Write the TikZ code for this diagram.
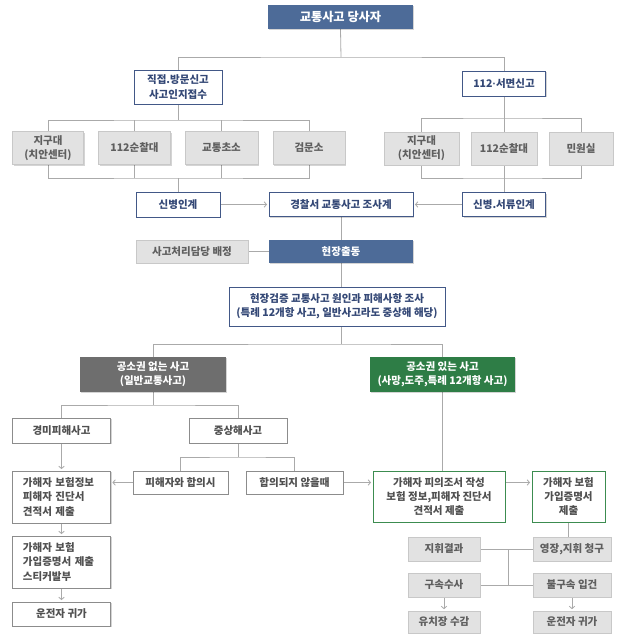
\documentclass[tikz,border=0pt]{standalone}
\usepackage{fontspec}
\setmainfont{Noto Sans CJK KR}
\newfontfamily\latinfont{Liberation Sans}
\usetikzlibrary{arrows.meta,shadows,backgrounds,calc}
\definecolor{navy}{RGB}{77,107,152}
\definecolor{blueline}{RGB}{66,88,135}
\definecolor{bluetext}{RGB}{52,72,118}
\definecolor{grayfill}{RGB}{226,226,226}
\definecolor{grayline}{RGB}{200,200,200}
\definecolor{graytext}{RGB}{95,95,95}
\definecolor{darkfill}{RGB}{110,110,110}
\definecolor{greenfill}{RGB}{46,125,70}
\definecolor{greenline}{RGB}{60,140,80}
\definecolor{wline}{RGB}{140,140,140}
\definecolor{wtext}{RGB}{80,80,80}
\definecolor{linegray}{RGB}{170,170,170}
\begin{document}
\begin{tikzpicture}[x=1pt,y=-1pt,
  every node/.style={font=\fontsize{10.5}{14.2}\selectfont\bfseries, inner sep=0pt, align=center},
  shad/.style={drop shadow={shadow xshift=1.3pt,shadow yshift=-1.3pt,fill=black,opacity=0.17}},
  navybox/.style={shad, fill=navy, text=white},
  bluebox/.style={shad, fill=white, draw=blueline, line width=0.8pt, text=bluetext},
  graybox/.style={shad, fill=grayfill, draw=grayline, line width=0.6pt, text=graytext},
  darkbox/.style={shad, fill=darkfill, text=white},
  greenbox/.style={shad, fill=greenfill, text=white},
  gbox/.style={shad, fill=white, draw=greenline, line width=0.8pt, text=wtext},
  wbox/.style={shad, fill=white, draw=wline, line width=0.7pt, text=wtext},
  leftbox/.style={wbox, align=left, text width=77pt, inner xsep=10.5pt},
  conn/.style={draw=linegray, line width=0.8pt},
  arr/.style={conn, shorten >=1.5pt, -{Straight Barb[length=2.5pt,width=5.5pt,line width=0.8pt]}},
]
\useasboundingbox (0,0) rectangle (624,635);

% top
\node[navybox, font=\fontsize{12.2}{14}\selectfont\bfseries, minimum width=145pt, minimum height=24pt] (top) at (340.5,17) {교통사고 당사자};
\node[bluebox, minimum width=88pt, minimum height=34pt] (d1) at (178,87) {직접.방문신고\\사고인지접수};
\node[bluebox, minimum width=83pt, minimum height=25pt] (d2) at (504,83.5) {112{\latinfont\bfseries ·}서면신고};

% left group
\node[graybox, minimum width=71pt, minimum height=33pt] (a1) at (48,148) {지구대\\(치안센터)};
\node[graybox, minimum width=72pt, minimum height=33pt] (a2) at (134.5,148) {112순찰대};
\node[graybox, minimum width=73pt, minimum height=33pt] (a3) at (221.5,148) {교통초소};
\node[graybox, minimum width=72pt, minimum height=33pt] (a4) at (309,148) {검문소};

% right group
\node[graybox, minimum width=75pt, minimum height=33pt] (b1) at (421.5,148.5) {지구대\\(치안센터)};
\node[graybox, minimum width=66pt, minimum height=33pt] (b2) at (504,148.5) {112순찰대};
\node[graybox, minimum width=64pt, minimum height=33pt] (b3) at (581,148.5) {민원실};

% transfer row
\node[bluebox, minimum width=84pt, minimum height=25pt] (s1) at (178,204.5) {신병인계};
\node[bluebox, minimum width=144pt, minimum height=24pt] (police) at (341,204.5) {경찰서 교통사고 조사계};
\node[bluebox, minimum width=83pt, minimum height=24pt] (s3) at (504,204.5) {신병.서류인계};

\node[navybox, minimum width=144pt, minimum height=23pt] (field) at (341,251.5) {현장출동};
\node[graybox, minimum width=112pt, minimum height=23pt] (assign) at (192,251.5) {사고처리담당 배정};

\node[bluebox, minimum width=216pt, minimum height=39pt] (inv) at (337,306.5) {현장검증 교통사고 원인과 피해사항 조사\\(특례 12개항 사고, 일반사고라도 중상해 해당)};

\node[darkbox, minimum width=146pt, minimum height=35pt] (no) at (153,374.5) {공소권 없는 사고\\(일반교통사고)};
\node[greenbox, minimum width=145pt, minimum height=35pt] (yes) at (442.5,374.5) {공소권 있는 사고\\(사망,도주,특례 12개항 사고)};

\node[wbox, minimum width=98pt, minimum height=25pt] (m1) at (61.5,430.5) {경미피해사고};
\node[wbox, minimum width=98pt, minimum height=25pt] (m2) at (238,430.5) {중상해사고};
\node[wbox, minimum width=95pt, minimum height=23pt] (h1) at (180.5,482.5) {피해자와 합의시};
\node[wbox, minimum width=97pt, minimum height=23pt] (h2) at (294.5,482.5) {합의되지 않을때};

\node[leftbox, minimum height=52pt] (L1) at (61.5,497) {가해자 보험정보\\피해자 진단서\\견적서 제출};
\node[leftbox, minimum height=52pt] (L2) at (61.5,562) {가해자 보험\\가입증명서 제출\\스티커발부};
\node[wbox, minimum width=98pt, minimum height=24pt] (L3) at (61.5,614) {운전자 귀가};

\node[gbox, minimum width=132pt, minimum height=51pt] (p1) at (439,496.5) {가해자 피의조서 작성\\보험 정보,피해자 진단서\\견적서 제출};
\node[gbox, minimum width=73pt, minimum height=51pt] (p2) at (568.5,496.5) {가해자 보험\\가입증명서\\제출};

\node[graybox, minimum width=72pt, minimum height=24pt] (r1) at (444,549) {지휘결과};
\node[graybox, minimum width=78pt, minimum height=24pt] (r2) at (572,549) {영장,지휘 청구};
\node[graybox, minimum width=72pt, minimum height=24pt] (r3) at (444,585) {구속수사};
\node[graybox, minimum width=78pt, minimum height=24pt] (r4) at (572,585) {불구속 입건};
\node[graybox, minimum width=72pt, minimum height=22pt] (r5) at (444,622) {유치장 수감};
\node[graybox, minimum width=78pt, minimum height=22pt] (r6) at (572,622) {운전자 귀가};

% junctions
\coordinate (j1) at (341,57);
\coordinate (jL1) at (178,120);
\coordinate (jL2) at (178,178);
\coordinate (jR1) at (504,118);
\coordinate (jR2) at (504,178);
\coordinate (j2) at (341,344);
\coordinate (jN) at (153,405);
\coordinate (jM) at (238,457);
\coordinate (v1) at (508,549);
\coordinate (v2) at (508,585);

\begin{pgfonlayer}{background}
\fill[white] (0,0) rectangle (624,635);
\draw[conn] (top.south) -- (j1);
\draw[conn] (d1.north) |- (j1) -| (d2.north);
% left group
\draw[conn] (d1.south) -- (jL1);
\draw[conn] (a1.north) |- (jL1) -| (a4.north);
\draw[conn] (a2.north) -- (a2.north |- jL1);
\draw[conn] (a3.north) -- (a3.north |- jL1);
\draw[conn] (a1.south) |- (jL2) -| (a4.south);
\draw[conn] (a2.south) -- (a2.south |- jL2);
\draw[conn] (a3.south) -- (a3.south |- jL2);
\draw[conn] (jL2) -- (s1.north);
% right group
\draw[conn] (d2.south) -- (jR1);
\draw[conn] (b1.north) |- (jR1) -| (b3.north);
\draw[conn] (b2.north) -- (jR1);
\draw[conn] (b1.south) |- (jR2) -| (b3.south);
\draw[conn] (b2.south) -- (jR2);
\draw[conn] (jR2) -- (s3.north);
% transfers
\draw[arr] (s1) -- (police);
\draw[arr] (s3) -- (police);
\draw[conn] (police) -- (field);
\draw[conn] (assign) -- (field);
\draw[conn] (field.south) -- (field.south |- inv.north);
\draw[conn] (j2 |- inv.south) -- (j2);
\draw[conn] (no.north) |- (j2) -| (yes.north);
% no-prosecution branch
\draw[conn] (no.south) -- (jN);
\draw[conn] (m1.north) |- (jN) -| (m2.north);
\draw[conn] (m2.south) -- (jM);
\draw[conn] (h1.north) |- (jM) -| (h2.north);
\draw[arr] (m1) -- (L1);
\draw[arr] (h1.west) -- (h1.west -| L1.east);
\draw[arr] (L1) -- (L2);
\draw[arr] (L2) -- (L3);
% prosecution branch
\draw[arr] (h2.east) -- (h2.east -| p1.west);
\draw[conn] (yes.south) -- (yes.south |- p1.north);
\draw[arr] (p1.east |- h2.east) -- (p2.west |- h2.east);
\draw[conn] (p2.south) -- (p2.south |- r2.north);
\draw[conn] (r1) -- (r2);
\draw[conn] (r3) -- (r4);
\draw[conn] (v1) -- (v2);
\draw[arr] (r3) -- (r5);
\draw[arr] (r4) -- (r6);
\end{pgfonlayer}
\end{tikzpicture}
\end{document}
